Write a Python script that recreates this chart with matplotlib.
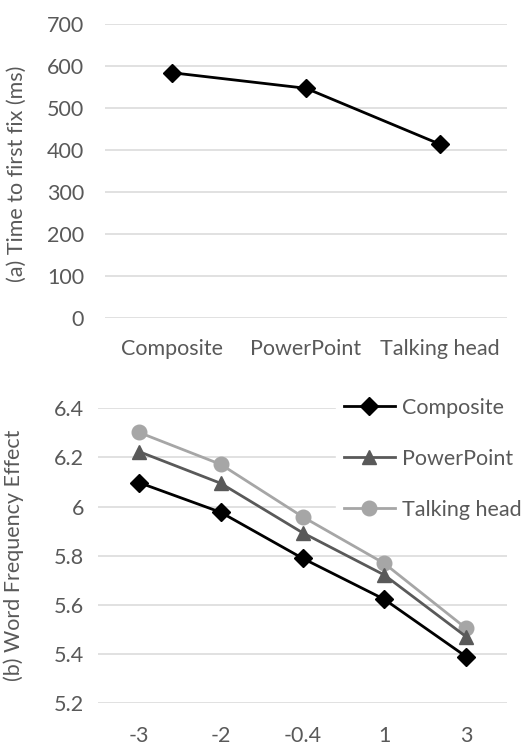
import matplotlib
matplotlib.use("Agg")
import matplotlib.pyplot as plt

# Panel (a): time to first fixation by presentation style
styles = ["Composite", "PowerPoint", "Talking head"]
first_fix_ms = [583, 546, 413]

# Panel (b): word frequency effect by frequency level
freq_levels = ["-3", "-2", "-0.4", "1", "3"]
wfe_composite = [6.098, 5.977, 5.790, 5.623, 5.390]
wfe_powerpoint = [6.224, 6.095, 5.894, 5.722, 5.471]
wfe_talking = [6.302, 6.172, 5.959, 5.769, 5.505]

plt.rcParams["font.family"] = ["Lato", "DejaVu Sans"]
TXT = "#595959"
GRID = "#d9d9d9"
FS = 15.5

fig = plt.figure(figsize=(5.26, 7.45), dpi=100)

def style_axes(ax, pad_x, pad_y):
    for s in ax.spines.values():
        s.set_visible(False)
    ax.grid(axis="y", color=GRID, linewidth=1.1)
    ax.set_axisbelow(True)
    ax.tick_params(axis="both", length=0, labelsize=FS, labelcolor=TXT)
    ax.tick_params(axis="x", pad=pad_x)
    ax.tick_params(axis="y", pad=pad_y)

# --- panel (a)
ax1 = fig.add_axes([105/526, 1-318/745, (507-105)/526, (318-23.5)/745])
x1 = range(len(styles))
ax1.plot(x1, first_fix_ms, color="black", lw=2.0, marker="D", ms=9.5)
ax1.set_xlim(-0.5, len(styles)-0.5)
ax1.set_ylim(0, 700)
ax1.set_yticks(range(0, 701, 100))
ax1.set_xticks(list(x1))
ax1.set_xticklabels(styles)
style_axes(ax1, 15, 15)
ax1.set_ylabel("(a) Time to first fix (ms)", fontsize=FS, color=TXT)
ax1.yaxis.set_label_coords(-0.195, 0.49)

# --- panel (b)
ax2 = fig.add_axes([98/526, 1-703.3/745, (507-98)/526, (703.3-408.3)/745])
x2 = range(len(freq_levels))
ax2.plot(x2, wfe_composite, color="black", lw=2.0, marker="D", ms=9.5,
         label="Composite", zorder=5)
ax2.plot(x2, wfe_powerpoint, color="#595959", lw=2.0, marker="^", ms=10.5,
         label="PowerPoint", zorder=4)
ax2.plot(x2, wfe_talking, color="#a6a6a6", lw=2.0, marker="o", ms=10.5,
         label="Talking head", zorder=3)
ax2.set_xlim(-0.5, len(freq_levels)-0.5)
ax2.set_ylim(5.2, 6.4)
ax2.set_yticks([5.2, 5.4, 5.6, 5.8, 6.0, 6.2, 6.4])
ax2.set_yticklabels(["5.2", "5.4", "5.6", "5.8", "6", "6.2", "6.4"])
ax2.set_xticks(list(x2))
ax2.set_xticklabels(freq_levels)
style_axes(ax2, 16, 10)
ax2.set_ylabel("(b) Word Frequency Effect", fontsize=FS, color=TXT)
ax2.yaxis.set_label_coords(-0.18, 0.5)

leg = ax2.legend(loc="upper left", bbox_to_anchor=(336/526, 1-390/745),
                 bbox_transform=fig.transFigure, frameon=True, fancybox=False,
                 edgecolor="white", facecolor="white", framealpha=1,
                 fontsize=FS, handlelength=2.4, handletextpad=0.3,
                 labelspacing=1.45, borderpad=0.35, borderaxespad=0)
for t in leg.get_texts():
    t.set_color(TXT)
leg.set_zorder(10)

fig.savefig("out.png", dpi=100)
